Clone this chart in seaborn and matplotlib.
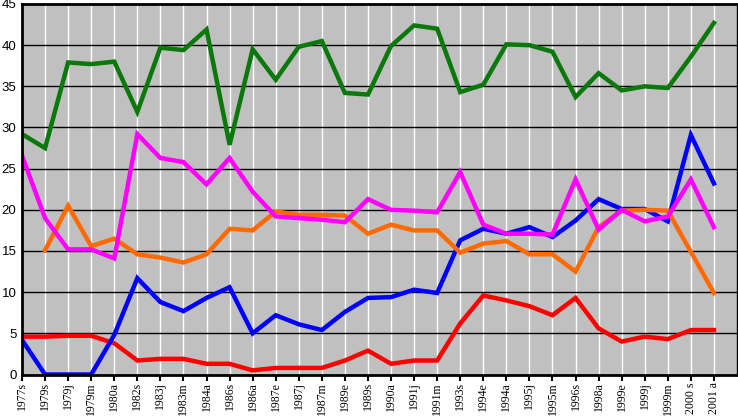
import numpy as np
import matplotlib
matplotlib.use("Agg")
import matplotlib.pyplot as plt
import seaborn as sns
import pandas as pd

#---chart data
periods = ["1977s", "1979s", "1979j", "1979m", "1980a", "1982s", "1983j", "1983m",
           "1984a", "1986s", "1986a", "1987e", "1987j", "1987m", "1989e", "1989s",
           "1990a", "1991j", "1991m", "1993s", "1994e", "1994a", "1995j", "1995m",
           "1996s", "1998a", "1999e", "1999j", "1999m", "2000 s", "2001 a"]

green = [29.2, 27.5, 37.9, 37.7, 38.0, 31.9, 39.7, 39.4, 41.9, 27.9, 39.5, 35.8,
         39.8, 40.5, 34.2, 34.0, 39.9, 42.4, 42.0, 34.3, 35.2, 40.1, 40.0, 39.2,
         33.7, 36.6, 34.5, 35.0, 34.8, 38.6, 42.7]
magenta = [26.6, 19.0, 15.2, 15.2, 14.1, 29.2, 26.3, 25.8, 23.1, 26.3, 22.2, 19.2,
           19.0, 18.8, 18.5, 21.3, 20.0, 19.9, 19.7, 24.6, 18.2, 17.1, 17.1, 17.0,
           23.7, 17.6, 20.0, 18.6, 19.2, 23.7, 17.9]
orange = [np.nan, 15.1, 20.5, 15.6, 16.5, 14.6, 14.2, 13.6, 14.6, 17.7, 17.5, 19.8,
          19.4, 19.4, 19.3, 17.1, 18.2, 17.5, 17.5, 14.8, 15.9, 16.2, 14.6, 14.6,
          12.5, 17.9, 19.9, 20.0, 19.9, 14.9, 9.9]
blue = [4.2, 0.0, 0.0, 0.0, 4.8, 11.7, 8.8, 7.7, 9.3, 10.6, 5.0, 7.2,
        6.1, 5.4, 7.6, 9.3, 9.4, 10.3, 9.9, 16.3, 17.7, 17.1, 17.9, 16.7,
        18.7, 21.3, 20.1, 20.1, 18.6, 29.1, 23.2]
red = [4.6, 4.6, 4.7, 4.7, 3.8, 1.7, 1.9, 1.9, 1.3, 1.3, 0.5, 0.8,
       0.8, 0.8, 1.7, 2.9, 1.3, 1.7, 1.7, 6.2, 9.6, 9.0, 8.3, 7.2,
       9.3, 5.6, 4.0, 4.6, 4.3, 5.4, 5.4]

series = {"red": red, "blue": blue, "orange": orange, "magenta": magenta, "green": green}
colors = {"red": "#FF0000", "blue": "#0000FF", "orange": "#FF6A00",
          "magenta": "#FF00FF", "green": "#0A780A"}

frames = []
for name, vals in series.items():
    frames.append(pd.DataFrame({"pos": np.arange(len(periods)), "value": vals, "series": name}))
df = pd.concat(frames, ignore_index=True).dropna()

fig = plt.figure(figsize=(7.38, 4.16), dpi=100)
ax = fig.add_axes([22 / 738, 1 - 374.5 / 416, 715 / 738, 370.5 / 416])
ax.set_facecolor("#C0C0C0")

# grid: white verticals at each category, black horizontals every 5
for i in range(len(periods)):
    ax.axvline(i, color="white", lw=1, zorder=0)
for v in range(5, 45, 5):
    ax.axhline(v, color="black", lw=1, zorder=0)

sns.lineplot(data=df, x="pos", y="value", hue="series", palette=colors,
             hue_order=list(series.keys()), sort=False, lw=3.2, legend=False, ax=ax)
for line in ax.lines:
    line.set_solid_joinstyle("miter")

ax.set_xlim(0, 31)
ax.set_ylim(0, 45)
ax.set_yticks(range(0, 46, 5))
ax.set_xticks(range(len(periods)))
ax.set_xticklabels(periods, rotation=90, family="Liberation Serif", fontsize=8.5)
ax.tick_params(axis="x", length=4, width=1.5, pad=1.5, colors="black")
ax.tick_params(axis="y", length=0, pad=4, labelsize=9.5)
for lab in ax.get_yticklabels():
    lab.set_family("Liberation Sans")
ax.set_xlabel("")
ax.set_ylabel("")
ax.grid(False)
for side in ["left", "bottom", "top"]:
    ax.spines[side].set_linewidth(2)
ax.spines["right"].set_linewidth(1)

fig.savefig("out.png", dpi=100)
